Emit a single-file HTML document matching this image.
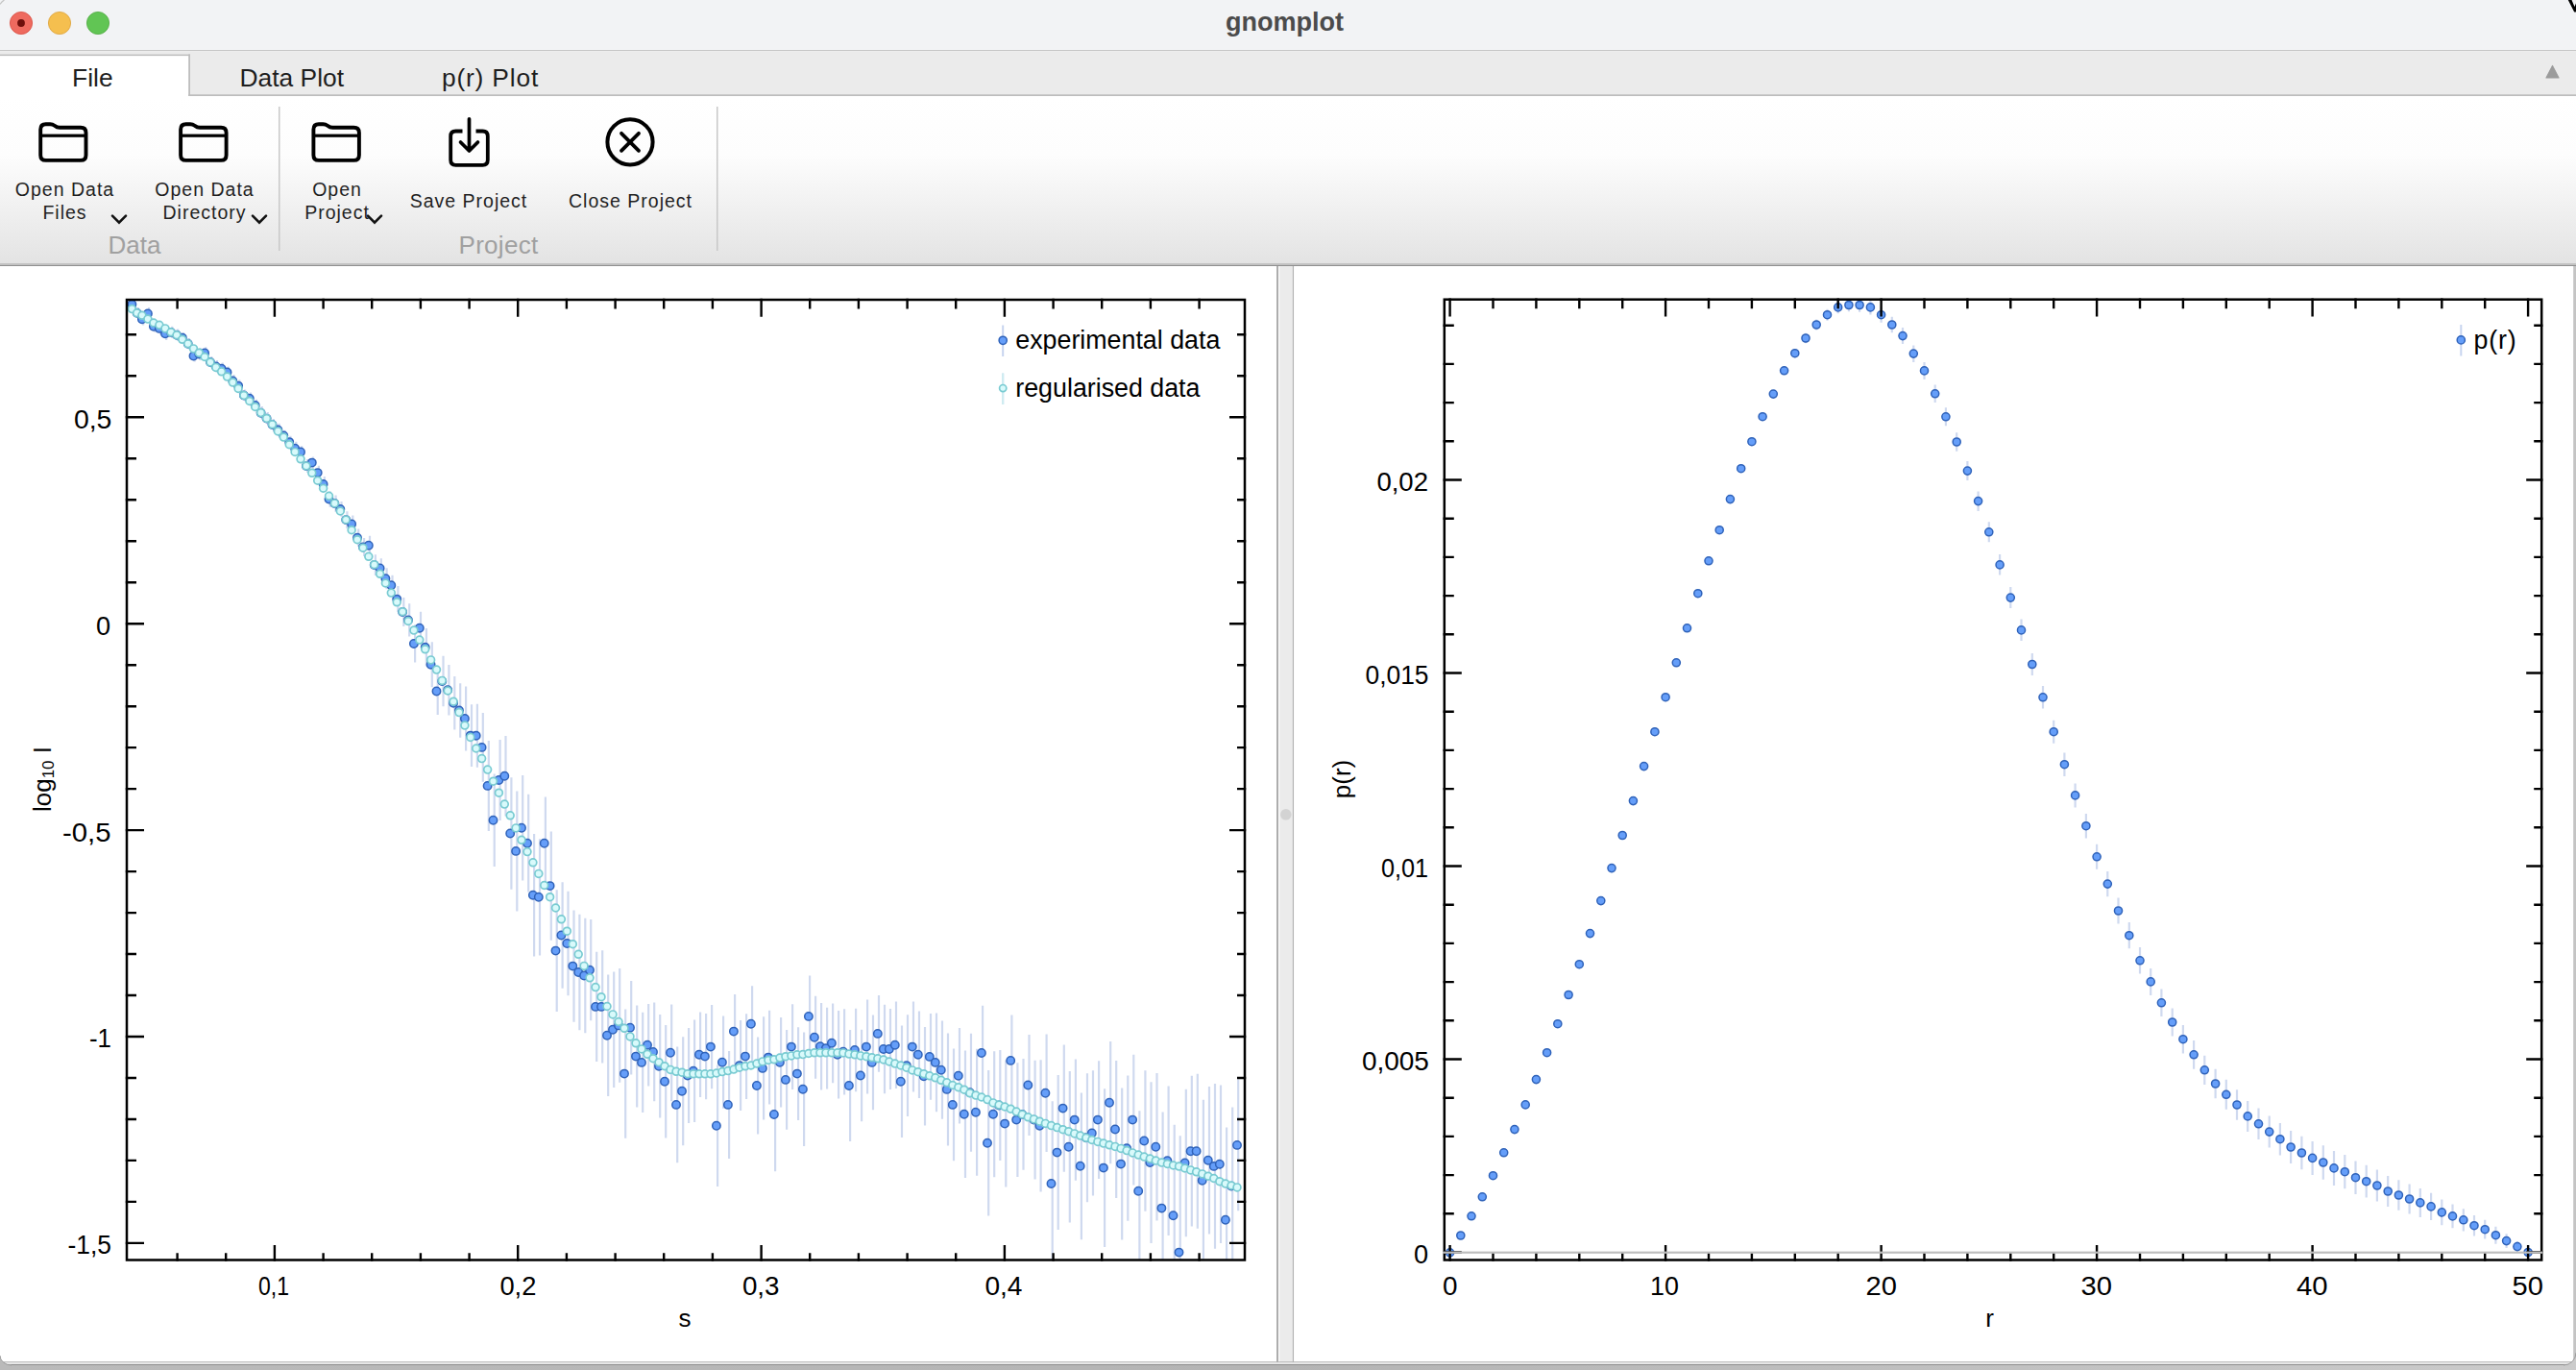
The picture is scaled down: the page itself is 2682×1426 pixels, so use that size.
<!DOCTYPE html><html><head><meta charset="utf-8"><title>gnomplot</title><style>html,body{margin:0;padding:0;width:2682px;height:1426px;overflow:hidden;background:#b9b9b9}svg{display:block}text{font-family:"Liberation Sans",sans-serif}</style></head><body><svg width="2682" height="1426" viewBox="0 0 2682 1426"><defs><linearGradient id="tb" x1="0" y1="0" x2="0" y2="1"><stop offset="0" stop-color="#ffffff"/><stop offset="0.35" stop-color="#fdfdfd"/><stop offset="1" stop-color="#e3e3e3"/></linearGradient><linearGradient id="desk" x1="0" y1="0" x2="1" y2="0"><stop offset="0" stop-color="#bababa"/><stop offset="0.5" stop-color="#b4b4b4"/><stop offset="1" stop-color="#cbcbcb"/></linearGradient><clipPath id="win"><path d="M0,0 H2682 V1408 A13,13 0 0 1 2669,1421 H12 A12,10 0 0 1 0,1411 Z"/></clipPath><clipPath id="clipL"><rect x="132" y="312" width="1164" height="999.5"/></clipPath><clipPath id="clipR"><rect x="1503.8" y="311.7" width="1142.4" height="999.8"/></clipPath></defs><rect x="0" y="0" width="2682" height="1426" fill="url(#desk)"/><g clip-path="url(#win)"><rect x="0" y="0" width="2682" height="1421" fill="#ffffff"/><rect x="0" y="0" width="2682" height="53" fill="#f2f3f5"/><rect x="0" y="52" width="2682" height="1.2" fill="#c6c6c6"/><circle cx="22" cy="24" r="11.6" fill="#ee6a5f" stroke="#d8493e" stroke-width="0.8"/><circle cx="22" cy="24" r="3.9" fill="#6e0f0b"/><circle cx="62" cy="24" r="11.6" fill="#f5bf4f" stroke="#dca13a" stroke-width="0.8"/><circle cx="102" cy="24" r="11.6" fill="#61c554" stroke="#4ea83f" stroke-width="0.8"/><text x="1337.5" y="31.8" font-size="27" font-weight="bold" fill="#4b4b4b" text-anchor="middle">gnomplot</text><rect x="0" y="53.2" width="2682" height="46.8" fill="#ebebeb"/><rect x="0" y="56.5" width="198" height="44" fill="#ffffff"/><rect x="0" y="56.5" width="198" height="1.6" fill="#bdbdbd"/><rect x="196.2" y="56.5" width="1.8" height="43.5" fill="#bdbdbd"/><rect x="196.2" y="98.3" width="2486" height="1.8" fill="#bdbdbd"/><text x="96.3" y="89.8" font-size="26.4" fill="#1e1e1e" text-anchor="middle">File</text><text x="303.8" y="90" font-size="26.4" fill="#1e1e1e" text-anchor="middle">Data Plot</text><text x="510.5" y="90" font-size="26.4" letter-spacing="0.8" fill="#1e1e1e" text-anchor="middle">p(r) Plot</text><path d="M2651,81 L2657.5,68.5 L2664,81 Z" fill="#9b9b9b" stroke="#9b9b9b" stroke-width="1.2" stroke-linejoin="round"/><rect x="0" y="100" width="2682" height="175" fill="url(#tb)"/><rect x="0" y="274" width="2682" height="2" fill="#c2c2c2"/><rect x="0" y="276" width="2682" height="1.1" fill="#8f8f8f"/><rect x="290" y="111" width="1.5" height="150" fill="#c8c8c8"/><rect x="746" y="111" width="1.5" height="150" fill="#c8c8c8"/><path d="M42.2,161.4 V134.7 Q42.2,129.2 47.7,129.2 H52.2 Q54.7,129.2 57.2,131 Q59.2,132.8 62.2,132.8 H84 Q89.5,132.8 89.5,138.2 V161.4 Q89.5,166.9 84,166.9 H47.7 Q42.2,166.9 42.2,161.4 Z" fill="none" stroke="#000" stroke-width="3.9" stroke-linejoin="round"/><rect x="43.7" y="139.6" width="44.4" height="3.2" fill="#000"/><path d="M188.1,161.4 V134.7 Q188.1,129.2 193.6,129.2 H198.1 Q200.6,129.2 203.1,131 Q205.1,132.8 208.1,132.8 H230.1 Q235.6,132.8 235.6,138.2 V161.4 Q235.6,166.9 230.1,166.9 H193.6 Q188.1,166.9 188.1,161.4 Z" fill="none" stroke="#000" stroke-width="3.9" stroke-linejoin="round"/><rect x="189.6" y="139.6" width="44.4" height="3.2" fill="#000"/><path d="M326.4,161.4 V134.7 Q326.4,129.2 331.9,129.2 H336.4 Q338.9,129.2 341.4,131 Q343.4,132.8 346.4,132.8 H368.4 Q373.9,132.8 373.9,138.2 V161.4 Q373.9,166.9 368.4,166.9 H331.9 Q326.4,166.9 326.4,161.4 Z" fill="none" stroke="#000" stroke-width="3.9" stroke-linejoin="round"/><rect x="327.9" y="139.6" width="44.4" height="3.2" fill="#000"/><path d="M481.5,136.5 H474.5 Q469.2,136.5 469.2,141.8 V166.5 Q469.2,171.8 474.5,171.8 H502.5 Q507.8,171.8 507.8,166.5 V141.8 Q507.8,136.5 502.5,136.5 H495.5" fill="none" stroke="#000" stroke-width="3.8" stroke-linecap="butt" stroke-linejoin="round"/><path d="M488.5,123.8 V156.5 M479.5,148 L488.5,157 L497.5,148" fill="none" stroke="#000" stroke-width="3.7" stroke-linecap="round" stroke-linejoin="round"/><circle cx="656" cy="147.8" r="23.6" fill="none" stroke="#000" stroke-width="4"/><path d="M647,138.8 L665,156.8 M665,138.8 L647,156.8" fill="none" stroke="#000" stroke-width="3.8" stroke-linecap="round"/><text x="67.5" y="203.7" font-size="19.5" fill="#1f1f1f" text-anchor="middle" letter-spacing="1.0">Open Data</text><text x="67.5" y="227.6" font-size="19.5" fill="#1f1f1f" text-anchor="middle" letter-spacing="1.0">Files</text><text x="213" y="203.7" font-size="19.5" fill="#1f1f1f" text-anchor="middle" letter-spacing="1.0">Open Data</text><text x="213" y="227.6" font-size="19.5" fill="#1f1f1f" text-anchor="middle" letter-spacing="1.0">Directory</text><text x="351" y="204" font-size="19.5" fill="#1f1f1f" text-anchor="middle" letter-spacing="1.0">Open</text><text x="351" y="227.6" font-size="19.5" fill="#1f1f1f" text-anchor="middle" letter-spacing="1.0">Project</text><text x="488" y="215.9" font-size="19.5" fill="#1f1f1f" text-anchor="middle" letter-spacing="1.0">Save Project</text><text x="656.5" y="215.9" font-size="19.5" fill="#1f1f1f" text-anchor="middle" letter-spacing="1.0">Close Project</text><text x="140" y="263.7" font-size="26" fill="#a0a0a0" text-anchor="middle" letter-spacing="0">Data</text><text x="519" y="264" font-size="26" fill="#a0a0a0" text-anchor="middle" letter-spacing="0.3">Project</text><path d="M117,224.7 L124,231.7 L131,224.7" fill="none" stroke="#111" stroke-width="2.6" stroke-linecap="round" stroke-linejoin="miter"/><path d="M263,224.7 L270,231.7 L277,224.7" fill="none" stroke="#111" stroke-width="2.6" stroke-linecap="round" stroke-linejoin="miter"/><path d="M383,224.7 L390,231.7 L397,224.7" fill="none" stroke="#111" stroke-width="2.6" stroke-linecap="round" stroke-linejoin="miter"/><rect x="0" y="277" width="1329" height="1141" fill="#ffffff"/><rect x="1329" y="277" width="2.2" height="1141" fill="#adadad"/><rect x="1331.2" y="277" width="1" height="1141" fill="#ffffff"/><rect x="1332.2" y="277" width="13.6" height="1141" fill="#ebebeb"/><rect x="1345.8" y="277" width="1.4" height="1141" fill="#b3b3b3"/><circle cx="1338.8" cy="847.8" r="5.8" fill="#d3d3d3"/><rect x="1347.2" y="277" width="1332" height="1141" fill="#ffffff"/><rect x="2679.2" y="277" width="2.8" height="1141" fill="#c4c4c4"/><rect x="0" y="1417.2" width="2682" height="1.4" fill="#b3b3b3"/><rect x="0" y="1418.6" width="2682" height="1.2" fill="#ffffff"/><rect x="0" y="1419.8" width="2682" height="1.2" fill="#8f8f8f"/><g clip-path="url(#clipL)"><path d="M138.6,311V322.4M143.8,319.9V331.6M149.1,326V338.4M155.1,319.9V332.9M161.1,333.7V345.7M167.1,335.4V348.4M173.2,340.7V353.9M179.2,339.8V352M185.2,342.5V355.1M191,345.9V357.2M196.9,352.1V363.5M202.7,364.3V376.6M208.5,362.1V375.1M214.3,361.3V373.4M220.2,370.9V383M226,375.1V387.8M231.8,377.6V389.8M237.7,381.6V393.2M243.5,389.9V403M249.3,395.3V408M255.1,405.5V417.4M261,408.4V421M266.9,415.8V428.2M272.8,423.1V436.5M278.8,429.1V442.1M284.7,436.1V447.8M290.6,440.7V454.3M296.5,447.7V459.4M302.4,453.7V466.4M308.3,459.8V473.6M314.2,464.3V476.7M320.1,478V492.1M326,475.4V487.8M331.9,484.7V499.5M337.8,496V511.7M343.7,511.5V527.7M349.6,515.4V532.7M355.5,522V537.7M361.4,532.2V550M367.3,536.6V554.2M373.2,550.5V569M379.1,560.1V578.9M385,557.8V577.6M390.9,577.2V599.1M396.8,581.3V601.5M402.6,591.3V613.3M408.5,598.7V619.9M414.4,610.1V637.1M420.3,622.1V651.9M426.2,628.2V662.5M432.1,650.3V689.6M438,636.8V670.6M443.9,654V693.5M449.8,668.2V715.2M455.7,694.9V744M461.5,682.7V735.2M467.4,692V744.5M473.3,704.1V759.4M479.2,711.2V767.8M485.1,714.4V781.6M491,733.3V797.9M496.9,732.8V798.8M502.8,742.1V813.7M508.8,770.9V864.9M514.7,805.6V902M520.6,769.9V854.1M526.5,765.9V849.5M532.4,809.2V925.8M538.3,823.4V948.4M544.2,807V916.4M550.2,826.8V928.6M556.1,868.1V995.5M562,873.2V994.4M567.9,829.4V926M573.8,865.4V978.8M579.7,926.3V1052.9M585.6,918.2V1028.8M591.5,927.8V1036.2M597.5,947.4V1063.8M603.4,951.8V1072.2M609.3,955.7V1075.3M615.2,957.1V1062.3M621.2,990.8V1105M627.2,989.3V1106.5M633.2,1014.5V1141.1M639.2,1011.4V1132M645.2,1008.1V1126.7M651.2,1050.5V1184.7M657.2,1021V1118.6M663.2,1046.6V1152.6M669.2,1053.7V1158.1M675.2,1045V1130.4M681.2,1043.6V1146.2M687.2,1055.9V1163.5M693.2,1067V1184.6M699.2,1045.4V1146.2M705.2,1089.5V1210.3M711.2,1079.2V1192.2M717.1,1069.9V1169.1M723.1,1061.5V1168.1M729.1,1053.5V1141.9M735.1,1055V1144.2M741.1,1046V1133.2M747.1,1108.4V1235M753.1,1057.6V1153.8M759.1,1093.9V1205.9M765.1,1035.1V1112.1M771.1,1062.1V1156M777.1,1055.2V1144M783.1,1026.2V1105.4M789.1,1079.6V1180.4M795.1,1058.2V1165.6M801.1,1051.8V1149.4M807.1,1100.8V1219.2M813.1,1058.9V1152.5M819.1,1072V1175.8M825.1,1045.3V1133.9M831.1,1069.3V1165.9M837.1,1074.6V1193M843.1,1015.5V1100.3M849.1,1036.7V1122.7M855.1,1044V1134.4M861.1,1048.8V1133.4M867.1,1044.4V1127.2M873.1,1051.9V1143.5M879.1,1050.3V1139.4M885.1,1072V1188M891.1,1049.7V1136.3M897.1,1071.7V1167.3M903.1,1040.6V1138.6M909,1056.6V1155.2M915,1036.1V1115.7M921,1045.8V1138.2M927,1050V1134M933,1042.5V1132.9M939,1067.6V1184M945,1056.2V1162M951,1042.6V1136.6M957,1052.5V1142.9M963,1069.1V1171.5M969,1055.1V1144.7M975,1054.6V1157.2M981,1062.6V1164.8M987,1075.4V1192.4M993,1091.5V1208.3M999,1069.9V1169.5M1005,1093.6V1226M1011,1075.8V1198.7M1017.1,1091.8V1223.8M1023.1,1046.7V1145.3M1029.2,1114V1265.4M1035.2,1094.3V1225.3M1041.3,1093V1208M1047.3,1103.6V1235.6M1053.4,1056.6V1151.2M1059.4,1106.2V1225M1065.5,1102.1V1217.8M1071.5,1076.9V1182.1M1077.6,1103.7V1227.5M1083.6,1103.2V1240.4M1089.6,1076.5V1199.1M1095.7,1146.2V1316.5M1101.7,1119.1V1280.1M1107.8,1087.4V1219.8M1113.8,1115V1272.4M1119.9,1102.5V1228.7M1125.9,1137.4V1290.2M1132,1117.3V1251.3M1138,1114.2V1244.6M1144.1,1104.3V1226.9M1150.1,1133.3V1297.9M1156.2,1084.1V1211.3M1162.2,1104.1V1246.9M1168.2,1132.6V1290.6M1174.3,1119.6V1270.8M1180.3,1097.8V1233.4M1186.4,1156.2V1316.5M1192.4,1114.3V1260.7M1198.5,1126.2V1294M1204.5,1117V1270.4M1210.6,1157.4V1316.5M1216.6,1130.5V1286.1M1222.7,1170.7V1316.5M1228.7,1182.2V1316.5M1234.8,1133.8V1287.2M1240.8,1119.8V1276.6M1246.8,1117.7V1278.7M1252.9,1144.8V1312.8M1259,1131V1284.4M1265,1128.1V1299.7M1271,1129.5V1293.9M1277.1,1173.5V1316.5M1283.2,1152.4V1316.5M1289.2,1123.5V1260.3" stroke="#cfd9ef" stroke-width="2.2" fill="none"/><g fill="#659ef9" stroke="#2f62b9" stroke-width="1.5"><circle cx="137.4" cy="316.7" r="4.2"/><circle cx="142.6" cy="325.8" r="4.2"/><circle cx="147.9" cy="332.2" r="4.2"/><circle cx="153.9" cy="326.4" r="4.2"/><circle cx="159.9" cy="339.7" r="4.2"/><circle cx="165.9" cy="341.9" r="4.2"/><circle cx="172" cy="347.3" r="4.2"/><circle cx="178" cy="345.9" r="4.2"/><circle cx="184" cy="348.8" r="4.2"/><circle cx="189.8" cy="351.6" r="4.2"/><circle cx="195.7" cy="357.8" r="4.2"/><circle cx="201.5" cy="370.5" r="4.2"/><circle cx="207.3" cy="368.6" r="4.2"/><circle cx="213.1" cy="367.4" r="4.2"/><circle cx="219" cy="377" r="4.2"/><circle cx="224.8" cy="381.5" r="4.2"/><circle cx="230.6" cy="383.7" r="4.2"/><circle cx="236.5" cy="387.4" r="4.2"/><circle cx="242.3" cy="396.5" r="4.2"/><circle cx="248.1" cy="401.6" r="4.2"/><circle cx="253.9" cy="411.5" r="4.2"/><circle cx="259.8" cy="414.7" r="4.2"/><circle cx="265.7" cy="422" r="4.2"/><circle cx="271.6" cy="429.8" r="4.2"/><circle cx="277.6" cy="435.6" r="4.2"/><circle cx="283.5" cy="442" r="4.2"/><circle cx="289.4" cy="447.5" r="4.2"/><circle cx="295.3" cy="453.5" r="4.2"/><circle cx="301.2" cy="460.1" r="4.2"/><circle cx="307.1" cy="466.7" r="4.2"/><circle cx="313" cy="470.5" r="4.2"/><circle cx="318.9" cy="485.1" r="4.2"/><circle cx="324.8" cy="481.6" r="4.2"/><circle cx="330.7" cy="492.1" r="4.2"/><circle cx="336.6" cy="503.9" r="4.2"/><circle cx="342.5" cy="519.6" r="4.2"/><circle cx="348.4" cy="524" r="4.2"/><circle cx="354.3" cy="529.9" r="4.2"/><circle cx="360.2" cy="541.1" r="4.2"/><circle cx="366.1" cy="545.4" r="4.2"/><circle cx="372" cy="559.8" r="4.2"/><circle cx="377.9" cy="569.5" r="4.2"/><circle cx="383.8" cy="567.7" r="4.2"/><circle cx="389.7" cy="588.1" r="4.2"/><circle cx="395.6" cy="591.4" r="4.2"/><circle cx="401.4" cy="602.3" r="4.2"/><circle cx="407.3" cy="609.3" r="4.2"/><circle cx="413.2" cy="623.6" r="4.2"/><circle cx="419.1" cy="637" r="4.2"/><circle cx="425" cy="645.4" r="4.2"/><circle cx="430.9" cy="670" r="4.2"/><circle cx="436.8" cy="653.7" r="4.2"/><circle cx="442.7" cy="673.7" r="4.2"/><circle cx="448.6" cy="691.7" r="4.2"/><circle cx="454.5" cy="719.5" r="4.2"/><circle cx="460.3" cy="709" r="4.2"/><circle cx="466.2" cy="718.2" r="4.2"/><circle cx="472.1" cy="731.8" r="4.2"/><circle cx="478" cy="739.5" r="4.2"/><circle cx="483.9" cy="748" r="4.2"/><circle cx="489.8" cy="765.6" r="4.2"/><circle cx="495.7" cy="765.8" r="4.2"/><circle cx="501.6" cy="777.9" r="4.2"/><circle cx="507.6" cy="817.9" r="4.2"/><circle cx="513.5" cy="853.8" r="4.2"/><circle cx="519.4" cy="812" r="4.2"/><circle cx="525.3" cy="807.7" r="4.2"/><circle cx="531.2" cy="867.5" r="4.2"/><circle cx="537.1" cy="885.9" r="4.2"/><circle cx="543" cy="861.7" r="4.2"/><circle cx="549" cy="877.7" r="4.2"/><circle cx="554.9" cy="931.8" r="4.2"/><circle cx="560.8" cy="933.8" r="4.2"/><circle cx="566.7" cy="877.7" r="4.2"/><circle cx="572.6" cy="922.1" r="4.2"/><circle cx="578.5" cy="989.6" r="4.2"/><circle cx="584.4" cy="973.5" r="4.2"/><circle cx="590.3" cy="982" r="4.2"/><circle cx="596.3" cy="1005.6" r="4.2"/><circle cx="602.2" cy="1012" r="4.2"/><circle cx="608.1" cy="1015.5" r="4.2"/><circle cx="614" cy="1009.7" r="4.2"/><circle cx="620" cy="1047.9" r="4.2"/><circle cx="626" cy="1047.9" r="4.2"/><circle cx="632" cy="1077.8" r="4.2"/><circle cx="638" cy="1071.7" r="4.2"/><circle cx="644" cy="1067.4" r="4.2"/><circle cx="650" cy="1117.6" r="4.2"/><circle cx="656" cy="1069.8" r="4.2"/><circle cx="662" cy="1099.6" r="4.2"/><circle cx="668" cy="1105.9" r="4.2"/><circle cx="674" cy="1087.7" r="4.2"/><circle cx="680" cy="1094.9" r="4.2"/><circle cx="686" cy="1109.7" r="4.2"/><circle cx="692" cy="1125.8" r="4.2"/><circle cx="698" cy="1095.8" r="4.2"/><circle cx="704" cy="1149.9" r="4.2"/><circle cx="710" cy="1135.7" r="4.2"/><circle cx="715.9" cy="1119.5" r="4.2"/><circle cx="721.9" cy="1114.8" r="4.2"/><circle cx="727.9" cy="1097.7" r="4.2"/><circle cx="733.9" cy="1099.6" r="4.2"/><circle cx="739.9" cy="1089.6" r="4.2"/><circle cx="745.9" cy="1171.7" r="4.2"/><circle cx="751.9" cy="1105.7" r="4.2"/><circle cx="757.9" cy="1149.9" r="4.2"/><circle cx="763.9" cy="1073.6" r="4.2"/><circle cx="769.9" cy="1109.1" r="4.2"/><circle cx="775.9" cy="1099.6" r="4.2"/><circle cx="781.9" cy="1065.8" r="4.2"/><circle cx="787.9" cy="1130" r="4.2"/><circle cx="793.9" cy="1111.9" r="4.2"/><circle cx="799.9" cy="1100.6" r="4.2"/><circle cx="805.9" cy="1160" r="4.2"/><circle cx="811.9" cy="1105.7" r="4.2"/><circle cx="817.9" cy="1123.9" r="4.2"/><circle cx="823.9" cy="1089.6" r="4.2"/><circle cx="829.9" cy="1117.6" r="4.2"/><circle cx="835.9" cy="1133.8" r="4.2"/><circle cx="841.9" cy="1057.9" r="4.2"/><circle cx="847.9" cy="1079.7" r="4.2"/><circle cx="853.9" cy="1089.2" r="4.2"/><circle cx="859.9" cy="1091.1" r="4.2"/><circle cx="865.9" cy="1085.8" r="4.2"/><circle cx="871.9" cy="1097.7" r="4.2"/><circle cx="877.9" cy="1094.8" r="4.2"/><circle cx="883.9" cy="1130" r="4.2"/><circle cx="889.9" cy="1093" r="4.2"/><circle cx="895.9" cy="1119.5" r="4.2"/><circle cx="901.9" cy="1089.6" r="4.2"/><circle cx="907.8" cy="1105.9" r="4.2"/><circle cx="913.8" cy="1075.9" r="4.2"/><circle cx="919.8" cy="1092" r="4.2"/><circle cx="925.8" cy="1092" r="4.2"/><circle cx="931.8" cy="1087.7" r="4.2"/><circle cx="937.8" cy="1125.8" r="4.2"/><circle cx="943.8" cy="1109.1" r="4.2"/><circle cx="949.8" cy="1089.6" r="4.2"/><circle cx="955.8" cy="1097.7" r="4.2"/><circle cx="961.8" cy="1120.3" r="4.2"/><circle cx="967.8" cy="1099.9" r="4.2"/><circle cx="973.8" cy="1105.9" r="4.2"/><circle cx="979.8" cy="1113.7" r="4.2"/><circle cx="985.8" cy="1133.9" r="4.2"/><circle cx="991.8" cy="1149.9" r="4.2"/><circle cx="997.8" cy="1119.7" r="4.2"/><circle cx="1003.8" cy="1159.8" r="4.2"/><circle cx="1009.8" cy="1137.3" r="4.2"/><circle cx="1015.9" cy="1157.8" r="4.2"/><circle cx="1021.9" cy="1096" r="4.2"/><circle cx="1028" cy="1189.7" r="4.2"/><circle cx="1034" cy="1159.8" r="4.2"/><circle cx="1040.1" cy="1150.5" r="4.2"/><circle cx="1046.1" cy="1169.6" r="4.2"/><circle cx="1052.2" cy="1103.9" r="4.2"/><circle cx="1058.2" cy="1165.6" r="4.2"/><circle cx="1064.3" cy="1159.9" r="4.2"/><circle cx="1070.3" cy="1129.5" r="4.2"/><circle cx="1076.4" cy="1165.6" r="4.2"/><circle cx="1082.4" cy="1171.8" r="4.2"/><circle cx="1088.4" cy="1137.8" r="4.2"/><circle cx="1094.5" cy="1232" r="4.2"/><circle cx="1100.5" cy="1199.6" r="4.2"/><circle cx="1106.6" cy="1153.6" r="4.2"/><circle cx="1112.6" cy="1193.7" r="4.2"/><circle cx="1118.7" cy="1165.6" r="4.2"/><circle cx="1124.7" cy="1213.8" r="4.2"/><circle cx="1130.8" cy="1184.3" r="4.2"/><circle cx="1136.8" cy="1179.4" r="4.2"/><circle cx="1142.9" cy="1165.6" r="4.2"/><circle cx="1148.9" cy="1215.6" r="4.2"/><circle cx="1155" cy="1147.7" r="4.2"/><circle cx="1161" cy="1175.5" r="4.2"/><circle cx="1167" cy="1211.6" r="4.2"/><circle cx="1173.1" cy="1195.2" r="4.2"/><circle cx="1179.1" cy="1165.6" r="4.2"/><circle cx="1185.2" cy="1239.7" r="4.2"/><circle cx="1191.2" cy="1187.5" r="4.2"/><circle cx="1197.3" cy="1210.1" r="4.2"/><circle cx="1203.3" cy="1193.7" r="4.2"/><circle cx="1209.4" cy="1257.6" r="4.2"/><circle cx="1215.4" cy="1208.3" r="4.2"/><circle cx="1221.5" cy="1265.3" r="4.2"/><circle cx="1227.5" cy="1303.6" r="4.2"/><circle cx="1233.6" cy="1210.5" r="4.2"/><circle cx="1239.6" cy="1198.2" r="4.2"/><circle cx="1245.6" cy="1198.2" r="4.2"/><circle cx="1251.7" cy="1228.8" r="4.2"/><circle cx="1257.8" cy="1207.7" r="4.2"/><circle cx="1263.8" cy="1213.9" r="4.2"/><circle cx="1269.8" cy="1211.7" r="4.2"/><circle cx="1275.9" cy="1269.7" r="4.2"/><circle cx="1282" cy="1234.6" r="4.2"/><circle cx="1288" cy="1191.9" r="4.2"/></g><g fill="#d9fafb" stroke="#79cbd2" stroke-width="1.7"><circle cx="137.4" cy="321.6" r="3.9"/><circle cx="142.6" cy="325.8" r="3.9"/><circle cx="147.9" cy="328.3" r="3.9"/><circle cx="153.9" cy="332.1" r="3.9"/><circle cx="159.9" cy="336" r="3.9"/><circle cx="165.9" cy="338.3" r="3.9"/><circle cx="172" cy="341.9" r="3.9"/><circle cx="178" cy="345.8" r="3.9"/><circle cx="184" cy="348.8" r="3.9"/><circle cx="189.8" cy="353.3" r="3.9"/><circle cx="195.7" cy="357.8" r="3.9"/><circle cx="201.5" cy="362.9" r="3.9"/><circle cx="207.3" cy="367.2" r="3.9"/><circle cx="213.1" cy="371.5" r="3.9"/><circle cx="219" cy="377.1" r="3.9"/><circle cx="224.8" cy="382.4" r="3.9"/><circle cx="230.6" cy="386.8" r="3.9"/><circle cx="236.5" cy="392.1" r="3.9"/><circle cx="242.3" cy="398.1" r="3.9"/><circle cx="248.1" cy="404.4" r="3.9"/><circle cx="253.9" cy="411.5" r="3.9"/><circle cx="259.8" cy="417.5" r="3.9"/><circle cx="265.7" cy="423.5" r="3.9"/><circle cx="271.6" cy="429.6" r="3.9"/><circle cx="277.6" cy="435.5" r="3.9"/><circle cx="283.5" cy="441.8" r="3.9"/><circle cx="289.4" cy="448.9" r="3.9"/><circle cx="295.3" cy="455.1" r="3.9"/><circle cx="301.2" cy="462.7" r="3.9"/><circle cx="307.1" cy="470.4" r="3.9"/><circle cx="313" cy="477.8" r="3.9"/><circle cx="318.9" cy="485" r="3.9"/><circle cx="324.8" cy="492.3" r="3.9"/><circle cx="330.7" cy="500.2" r="3.9"/><circle cx="336.6" cy="508.2" r="3.9"/><circle cx="342.5" cy="516.3" r="3.9"/><circle cx="348.4" cy="523.9" r="3.9"/><circle cx="354.3" cy="532" r="3.9"/><circle cx="360.2" cy="541" r="3.9"/><circle cx="366.1" cy="551.7" r="3.9"/><circle cx="372" cy="561.7" r="3.9"/><circle cx="377.9" cy="570.2" r="3.9"/><circle cx="383.8" cy="579.3" r="3.9"/><circle cx="389.7" cy="587.7" r="3.9"/><circle cx="395.6" cy="597.3" r="3.9"/><circle cx="401.4" cy="607" r="3.9"/><circle cx="407.3" cy="617.1" r="3.9"/><circle cx="413.2" cy="626.8" r="3.9"/><circle cx="419.1" cy="636.7" r="3.9"/><circle cx="425" cy="646.5" r="3.9"/><circle cx="430.9" cy="656.1" r="3.9"/><circle cx="436.8" cy="666.1" r="3.9"/><circle cx="442.7" cy="675.8" r="3.9"/><circle cx="448.6" cy="686.9" r="3.9"/><circle cx="454.5" cy="697.1" r="3.9"/><circle cx="460.3" cy="708.4" r="3.9"/><circle cx="466.2" cy="719" r="3.9"/><circle cx="472.1" cy="730.2" r="3.9"/><circle cx="478" cy="741.6" r="3.9"/><circle cx="483.9" cy="755.1" r="3.9"/><circle cx="489.8" cy="767.4" r="3.9"/><circle cx="495.7" cy="779" r="3.9"/><circle cx="501.6" cy="789.6" r="3.9"/><circle cx="507.6" cy="801.1" r="3.9"/><circle cx="513.5" cy="813.2" r="3.9"/><circle cx="519.4" cy="825.2" r="3.9"/><circle cx="525.3" cy="837.1" r="3.9"/><circle cx="531.2" cy="848.8" r="3.9"/><circle cx="537.1" cy="861.9" r="3.9"/><circle cx="543" cy="874.3" r="3.9"/><circle cx="549" cy="886.6" r="3.9"/><circle cx="554.9" cy="897.8" r="3.9"/><circle cx="560.8" cy="909.4" r="3.9"/><circle cx="566.7" cy="921.5" r="3.9"/><circle cx="572.6" cy="933.7" r="3.9"/><circle cx="578.5" cy="945" r="3.9"/><circle cx="584.4" cy="956.8" r="3.9"/><circle cx="590.3" cy="969.2" r="3.9"/><circle cx="596.3" cy="982.7" r="3.9"/><circle cx="602.2" cy="993.3" r="3.9"/><circle cx="608.1" cy="1005.4" r="3.9"/><circle cx="614" cy="1017.8" r="3.9"/><circle cx="620" cy="1027.6" r="3.9"/><circle cx="626" cy="1037.7" r="3.9"/><circle cx="632" cy="1047.5" r="3.9"/><circle cx="638" cy="1055.9" r="3.9"/><circle cx="644" cy="1063.5" r="3.9"/><circle cx="650" cy="1070.3" r="3.9"/><circle cx="656" cy="1078.9" r="3.9"/><circle cx="662" cy="1085.8" r="3.9"/><circle cx="668" cy="1091.9" r="3.9"/><circle cx="674" cy="1097.3" r="3.9"/><circle cx="680" cy="1101.7" r="3.9"/><circle cx="686" cy="1105.7" r="3.9"/><circle cx="692" cy="1109.7" r="3.9"/><circle cx="698" cy="1113.4" r="3.9"/><circle cx="704" cy="1115.3" r="3.9"/><circle cx="710" cy="1116.2" r="3.9"/><circle cx="715.9" cy="1117.7" r="3.9"/><circle cx="721.9" cy="1117.8" r="3.9"/><circle cx="727.9" cy="1117.8" r="3.9"/><circle cx="733.9" cy="1117.8" r="3.9"/><circle cx="739.9" cy="1117.8" r="3.9"/><circle cx="745.9" cy="1117" r="3.9"/><circle cx="751.9" cy="1115.6" r="3.9"/><circle cx="757.9" cy="1114.6" r="3.9"/><circle cx="763.9" cy="1113.1" r="3.9"/><circle cx="769.9" cy="1111.2" r="3.9"/><circle cx="775.9" cy="1109.8" r="3.9"/><circle cx="781.9" cy="1109" r="3.9"/><circle cx="787.9" cy="1107.1" r="3.9"/><circle cx="793.9" cy="1104.9" r="3.9"/><circle cx="799.9" cy="1103.5" r="3.9"/><circle cx="805.9" cy="1102.8" r="3.9"/><circle cx="811.9" cy="1101.1" r="3.9"/><circle cx="817.9" cy="1099.7" r="3.9"/><circle cx="823.9" cy="1098.9" r="3.9"/><circle cx="829.9" cy="1097.8" r="3.9"/><circle cx="835.9" cy="1097.6" r="3.9"/><circle cx="841.9" cy="1096.5" r="3.9"/><circle cx="847.9" cy="1095.8" r="3.9"/><circle cx="853.9" cy="1095.8" r="3.9"/><circle cx="859.9" cy="1095.8" r="3.9"/><circle cx="865.9" cy="1095.8" r="3.9"/><circle cx="871.9" cy="1095.8" r="3.9"/><circle cx="877.9" cy="1095.9" r="3.9"/><circle cx="883.9" cy="1097.1" r="3.9"/><circle cx="889.9" cy="1097.8" r="3.9"/><circle cx="895.9" cy="1098.9" r="3.9"/><circle cx="901.9" cy="1099.7" r="3.9"/><circle cx="907.8" cy="1100.8" r="3.9"/><circle cx="913.8" cy="1101.8" r="3.9"/><circle cx="919.8" cy="1103" r="3.9"/><circle cx="925.8" cy="1105" r="3.9"/><circle cx="931.8" cy="1107.1" r="3.9"/><circle cx="937.8" cy="1109" r="3.9"/><circle cx="943.8" cy="1111.2" r="3.9"/><circle cx="949.8" cy="1113.9" r="3.9"/><circle cx="955.8" cy="1115.7" r="3.9"/><circle cx="961.8" cy="1117.7" r="3.9"/><circle cx="967.8" cy="1119.8" r="3.9"/><circle cx="973.8" cy="1121.8" r="3.9"/><circle cx="979.8" cy="1124.3" r="3.9"/><circle cx="985.8" cy="1126.8" r="3.9"/><circle cx="991.8" cy="1129.5" r="3.9"/><circle cx="997.8" cy="1131.7" r="3.9"/><circle cx="1003.8" cy="1134.2" r="3.9"/><circle cx="1009.8" cy="1137.8" r="3.9"/><circle cx="1015.9" cy="1140.1" r="3.9"/><circle cx="1021.9" cy="1142" r="3.9"/><circle cx="1028" cy="1144.6" r="3.9"/><circle cx="1034" cy="1147.9" r="3.9"/><circle cx="1040.1" cy="1150.1" r="3.9"/><circle cx="1046.1" cy="1152" r="3.9"/><circle cx="1052.2" cy="1154.2" r="3.9"/><circle cx="1058.2" cy="1157.1" r="3.9"/><circle cx="1064.3" cy="1160" r="3.9"/><circle cx="1070.3" cy="1162.8" r="3.9"/><circle cx="1076.4" cy="1164.9" r="3.9"/><circle cx="1082.4" cy="1167.2" r="3.9"/><circle cx="1088.4" cy="1169.4" r="3.9"/><circle cx="1094.5" cy="1171.6" r="3.9"/><circle cx="1100.5" cy="1173.6" r="3.9"/><circle cx="1106.6" cy="1175.7" r="3.9"/><circle cx="1112.6" cy="1177.7" r="3.9"/><circle cx="1118.7" cy="1179.9" r="3.9"/><circle cx="1124.7" cy="1182.1" r="3.9"/><circle cx="1130.8" cy="1184.3" r="3.9"/><circle cx="1136.8" cy="1186.5" r="3.9"/><circle cx="1142.9" cy="1188.4" r="3.9"/><circle cx="1148.9" cy="1190.1" r="3.9"/><circle cx="1155" cy="1191.8" r="3.9"/><circle cx="1161" cy="1193.4" r="3.9"/><circle cx="1167" cy="1195.4" r="3.9"/><circle cx="1173.1" cy="1197.6" r="3.9"/><circle cx="1179.1" cy="1199.9" r="3.9"/><circle cx="1185.2" cy="1202.1" r="3.9"/><circle cx="1191.2" cy="1204.1" r="3.9"/><circle cx="1197.3" cy="1206.1" r="3.9"/><circle cx="1203.3" cy="1208.1" r="3.9"/><circle cx="1209.4" cy="1210.1" r="3.9"/><circle cx="1215.4" cy="1211.5" r="3.9"/><circle cx="1221.5" cy="1213" r="3.9"/><circle cx="1227.5" cy="1214.1" r="3.9"/><circle cx="1233.6" cy="1216" r="3.9"/><circle cx="1239.6" cy="1217.9" r="3.9"/><circle cx="1245.6" cy="1219.8" r="3.9"/><circle cx="1251.7" cy="1221.9" r="3.9"/><circle cx="1257.8" cy="1224.2" r="3.9"/><circle cx="1263.8" cy="1226.5" r="3.9"/><circle cx="1269.8" cy="1229.7" r="3.9"/><circle cx="1275.9" cy="1232.1" r="3.9"/><circle cx="1282" cy="1234" r="3.9"/><circle cx="1288" cy="1235.9" r="3.9"/></g></g><rect x="132" y="312" width="1164" height="999.5" fill="none" stroke="#000" stroke-width="2.5"/><path d="M184.6,1312.7V1304.2M184.6,310.8V321.6M235.2,1312.7V1304.2M235.2,310.8V321.6M285.9,1312.7V1296M285.9,310.8V329.8M336.6,1312.7V1304.2M336.6,310.8V321.6M387.2,1312.7V1304.2M387.2,310.8V321.6M437.9,1312.7V1304.2M437.9,310.8V321.6M488.6,1312.7V1304.2M488.6,310.8V321.6M539.2,1312.7V1296M539.2,310.8V329.8M589.9,1312.7V1304.2M589.9,310.8V321.6M640.6,1312.7V1304.2M640.6,310.8V321.6M691.2,1312.7V1304.2M691.2,310.8V321.6M741.9,1312.7V1304.2M741.9,310.8V321.6M792.6,1312.7V1296M792.6,310.8V329.8M843.2,1312.7V1304.2M843.2,310.8V321.6M893.9,1312.7V1304.2M893.9,310.8V321.6M944.6,1312.7V1304.2M944.6,310.8V321.6M995.2,1312.7V1304.2M995.2,310.8V321.6M1045.9,1312.7V1296M1045.9,310.8V329.8M1096.6,1312.7V1304.2M1096.6,310.8V321.6M1147.2,1312.7V1304.2M1147.2,310.8V321.6M1197.9,1312.7V1304.2M1197.9,310.8V321.6M1248.6,1312.7V1304.2M1248.6,310.8V321.6M130.8,1293.9H150M1297.2,1293.9H1280M130.8,1250.9H142M1297.2,1250.9H1288M130.8,1207.9H142M1297.2,1207.9H1288M130.8,1165H142M1297.2,1165H1288M130.8,1122H142M1297.2,1122H1288M130.8,1079H150M1297.2,1079H1280M130.8,1036H142M1297.2,1036H1288M130.8,993H142M1297.2,993H1288M130.8,950.1H142M1297.2,950.1H1288M130.8,907.1H142M1297.2,907.1H1288M130.8,864.1H150M1297.2,864.1H1280M130.8,821.1H142M1297.2,821.1H1288M130.8,778.1H142M1297.2,778.1H1288M130.8,735.2H142M1297.2,735.2H1288M130.8,692.2H142M1297.2,692.2H1288M130.8,649.2H150M1297.2,649.2H1280M130.8,606.2H142M1297.2,606.2H1288M130.8,563.2H142M1297.2,563.2H1288M130.8,520.3H142M1297.2,520.3H1288M130.8,477.3H142M1297.2,477.3H1288M130.8,434.3H150M1297.2,434.3H1280M130.8,391.3H142M1297.2,391.3H1288M130.8,348.3H142M1297.2,348.3H1288" stroke="#000" stroke-width="2.4" fill="none" stroke-linecap="butt"/><text x="76.9" y="445.7" font-size="27" fill="#000" textLength="39.5" lengthAdjust="spacingAndGlyphs">0,5</text><text x="99.9" y="660.6" font-size="27" fill="#000" textLength="15.1" lengthAdjust="spacingAndGlyphs">0</text><text x="65" y="875.5" font-size="27" fill="#000" textLength="50.5" lengthAdjust="spacingAndGlyphs">-0,5</text><text x="93" y="1090.4" font-size="27" fill="#000" textLength="23" lengthAdjust="spacingAndGlyphs">-1</text><text x="70.5" y="1305.3" font-size="27" fill="#000" textLength="45.5" lengthAdjust="spacingAndGlyphs">-1,5</text><text x="269" y="1348.3" font-size="27" fill="#000" textLength="32" lengthAdjust="spacingAndGlyphs">0,1</text><text x="520.4" y="1348.3" font-size="27" fill="#000" textLength="38" lengthAdjust="spacingAndGlyphs">0,2</text><text x="772.9" y="1348.3" font-size="27" fill="#000" textLength="38.6" lengthAdjust="spacingAndGlyphs">0,3</text><text x="1025.4" y="1348.3" font-size="27" fill="#000" textLength="39.1" lengthAdjust="spacingAndGlyphs">0,4</text><text x="713" y="1381" font-size="26" fill="#000" text-anchor="middle">s</text><text transform="translate(53,811) rotate(-90)" font-size="26" fill="#000" text-anchor="middle">log<tspan font-size="17" dy="3">10</tspan><tspan dy="-3"> I</tspan></text><path d="M1044.2,338.5V371 M1044.2,388.5V421" stroke-width="2" fill="none" stroke="#c7d4ef"/><path d="M1044.2,388.5V421" stroke-width="2" fill="none" stroke="#cfeef1"/><circle cx="1044.2" cy="354.3" r="4.1" fill="#659ef9" stroke="#2f62b9" stroke-width="1.5"/><circle cx="1044.2" cy="404.1" r="3.6" fill="#d9fafb" stroke="#79cbd2" stroke-width="1.7"/><text x="1057.3" y="363" font-size="26.8" fill="#000">experimental data</text><text x="1057.3" y="412.6" font-size="26.8" fill="#000">regularised data</text><g clip-path="url(#clipR)"><path d="M1779,580.7V586.9M1790.2,548.5V555M1801.4,516.2V523M1812.7,484.1V491.2M1823.9,456V463.4M1835.1,429.8V437.6M1846.3,406.1V414.1M1857.6,381.4V390.2M1868.8,362.9V372.5M1880,346.8V357.2M1891.2,332.4V343.6M1902.5,321.7V333.7M1913.7,313.5V326.3M1924.9,310.7V324.3M1936.1,310.3V324.7M1947.4,312.3V327.5M1958.6,319.7V335.7M1969.8,329.8V346.2M1981,341.1V358.1M1992.3,359.4V376.9M2003.5,376.9V394.9M2014.7,400.6V419.1M2025.9,424.3V443.3M2037.2,450.2V469.8M2048.4,480.1V500.1M2059.6,511.4V531.9M2070.8,543.3V564.3M2082.1,577.1V598.6M2093.3,611.1V633.1M2104.5,644.6V667.1M2115.8,680V703M2127,714V737.5M2138.2,749.7V773.7M2149.4,783.5V808M2160.6,815.4V840.4M2171.9,847V872.5M2183.1,878.8V904.8M2194.3,906.9V933.3M2205.5,934.6V961.4M2216.8,960.1V987.3M2228,986V1013.6M2239.2,1007.9V1035.9M2250.4,1029.5V1058M2261.7,1049.5V1078.5M2272.9,1067V1096.4M2284.1,1082.9V1112.7M2295.3,1098.7V1128.9M2306.6,1112.7V1143.3M2317.8,1123.8V1154.8M2329,1134.2V1165.8M2340.2,1145.9V1177.9M2351.5,1153.5V1186M2362.7,1161.6V1194.6M2373.9,1169V1202.5M2385.1,1177V1211M2396.4,1182.8V1217.2M2407.6,1187.9V1222.9M2418.8,1192.2V1227.8M2430,1197.9V1233.9M2441.3,1202.1V1237.3M2452.5,1208.5V1243M2463.7,1212.8V1246.6M2474.9,1217.5V1250.5M2486.2,1223.9V1256.1M2497.4,1228.2V1259.8M2508.6,1232.6V1263.4M2519.8,1236.9V1266.9M2531.1,1241.8V1270M2542.3,1248.6V1275.2M2553.5,1253.5V1278.3M2564.8,1258.2V1281.4M2576,1265V1286.4M2587.2,1269.8V1289.6M2598.4,1276.7V1294.7M2609.6,1284.3V1298.9M2620.9,1291.9V1303.3M2632.1,1299.5V1307.5" stroke="#cfd9ef" stroke-width="2.2" fill="none"/><g fill="#659ef9" stroke="#2f62b9" stroke-width="1.5"><circle cx="1509.6" cy="1303.9" r="4.05"/><circle cx="1520.8" cy="1286" r="4.05"/><circle cx="1532" cy="1265.8" r="4.05"/><circle cx="1543.3" cy="1245.8" r="4.05"/><circle cx="1554.5" cy="1223.7" r="4.05"/><circle cx="1565.7" cy="1199.8" r="4.05"/><circle cx="1576.9" cy="1175.6" r="4.05"/><circle cx="1588.2" cy="1149.9" r="4.05"/><circle cx="1599.4" cy="1123.6" r="4.05"/><circle cx="1610.6" cy="1095.7" r="4.05"/><circle cx="1621.8" cy="1065.7" r="4.05"/><circle cx="1633.1" cy="1035.5" r="4.05"/><circle cx="1644.3" cy="1003.7" r="4.05"/><circle cx="1655.5" cy="971.6" r="4.05"/><circle cx="1666.8" cy="937.6" r="4.05"/><circle cx="1678" cy="903.6" r="4.05"/><circle cx="1689.2" cy="869.5" r="4.05"/><circle cx="1700.4" cy="833.6" r="4.05"/><circle cx="1711.6" cy="797.6" r="4.05"/><circle cx="1722.9" cy="761.7" r="4.05"/><circle cx="1734.1" cy="725.7" r="4.05"/><circle cx="1745.3" cy="689.8" r="4.05"/><circle cx="1756.5" cy="653.8" r="4.05"/><circle cx="1767.8" cy="617.7" r="4.05"/><circle cx="1779" cy="583.8" r="4.05"/><circle cx="1790.2" cy="551.7" r="4.05"/><circle cx="1801.4" cy="519.6" r="4.05"/><circle cx="1812.7" cy="487.7" r="4.05"/><circle cx="1823.9" cy="459.7" r="4.05"/><circle cx="1835.1" cy="433.7" r="4.05"/><circle cx="1846.3" cy="410.1" r="4.05"/><circle cx="1857.6" cy="385.8" r="4.05"/><circle cx="1868.8" cy="367.7" r="4.05"/><circle cx="1880" cy="352" r="4.05"/><circle cx="1891.2" cy="338" r="4.05"/><circle cx="1902.5" cy="327.7" r="4.05"/><circle cx="1913.7" cy="319.9" r="4.05"/><circle cx="1924.9" cy="317.5" r="4.05"/><circle cx="1936.1" cy="317.5" r="4.05"/><circle cx="1947.4" cy="319.9" r="4.05"/><circle cx="1958.6" cy="327.7" r="4.05"/><circle cx="1969.8" cy="338" r="4.05"/><circle cx="1981" cy="349.6" r="4.05"/><circle cx="1992.3" cy="368.1" r="4.05"/><circle cx="2003.5" cy="385.9" r="4.05"/><circle cx="2014.7" cy="409.8" r="4.05"/><circle cx="2025.9" cy="433.8" r="4.05"/><circle cx="2037.2" cy="460" r="4.05"/><circle cx="2048.4" cy="490.1" r="4.05"/><circle cx="2059.6" cy="521.6" r="4.05"/><circle cx="2070.8" cy="553.8" r="4.05"/><circle cx="2082.1" cy="587.9" r="4.05"/><circle cx="2093.3" cy="622.1" r="4.05"/><circle cx="2104.5" cy="655.9" r="4.05"/><circle cx="2115.8" cy="691.5" r="4.05"/><circle cx="2127" cy="725.8" r="4.05"/><circle cx="2138.2" cy="761.7" r="4.05"/><circle cx="2149.4" cy="795.7" r="4.05"/><circle cx="2160.6" cy="827.9" r="4.05"/><circle cx="2171.9" cy="859.7" r="4.05"/><circle cx="2183.1" cy="891.8" r="4.05"/><circle cx="2194.3" cy="920.1" r="4.05"/><circle cx="2205.5" cy="948" r="4.05"/><circle cx="2216.8" cy="973.7" r="4.05"/><circle cx="2228" cy="999.8" r="4.05"/><circle cx="2239.2" cy="1021.9" r="4.05"/><circle cx="2250.4" cy="1043.8" r="4.05"/><circle cx="2261.7" cy="1064" r="4.05"/><circle cx="2272.9" cy="1081.7" r="4.05"/><circle cx="2284.1" cy="1097.8" r="4.05"/><circle cx="2295.3" cy="1113.8" r="4.05"/><circle cx="2306.6" cy="1128" r="4.05"/><circle cx="2317.8" cy="1139.3" r="4.05"/><circle cx="2329" cy="1150" r="4.05"/><circle cx="2340.2" cy="1161.9" r="4.05"/><circle cx="2351.5" cy="1169.8" r="4.05"/><circle cx="2362.7" cy="1178.1" r="4.05"/><circle cx="2373.9" cy="1185.7" r="4.05"/><circle cx="2385.1" cy="1194" r="4.05"/><circle cx="2396.4" cy="1200" r="4.05"/><circle cx="2407.6" cy="1205.4" r="4.05"/><circle cx="2418.8" cy="1210" r="4.05"/><circle cx="2430" cy="1215.9" r="4.05"/><circle cx="2441.3" cy="1219.7" r="4.05"/><circle cx="2452.5" cy="1225.7" r="4.05"/><circle cx="2463.7" cy="1229.7" r="4.05"/><circle cx="2474.9" cy="1234" r="4.05"/><circle cx="2486.2" cy="1240" r="4.05"/><circle cx="2497.4" cy="1244" r="4.05"/><circle cx="2508.6" cy="1248" r="4.05"/><circle cx="2519.8" cy="1251.9" r="4.05"/><circle cx="2531.1" cy="1255.9" r="4.05"/><circle cx="2542.3" cy="1261.9" r="4.05"/><circle cx="2553.5" cy="1265.9" r="4.05"/><circle cx="2564.8" cy="1269.8" r="4.05"/><circle cx="2576" cy="1275.7" r="4.05"/><circle cx="2587.2" cy="1279.7" r="4.05"/><circle cx="2598.4" cy="1285.7" r="4.05"/><circle cx="2609.6" cy="1291.6" r="4.05"/><circle cx="2620.9" cy="1297.6" r="4.05"/><circle cx="2632.1" cy="1303.5" r="4.05"/></g></g><rect x="1503.8" y="311.7" width="1142.4" height="999.8" fill="none" stroke="#000" stroke-width="2.5"/><path d="M1509.6,1312.7V1296M1509.6,310.5V329.5M1554.5,1312.7V1304.2M1554.5,310.5V321.3M1599.4,1312.7V1304.2M1599.4,310.5V321.3M1644.3,1312.7V1304.2M1644.3,310.5V321.3M1689.2,1312.7V1304.2M1689.2,310.5V321.3M1734.1,1312.7V1296M1734.1,310.5V329.5M1779,1312.7V1304.2M1779,310.5V321.3M1823.9,1312.7V1304.2M1823.9,310.5V321.3M1868.8,1312.7V1304.2M1868.8,310.5V321.3M1913.7,1312.7V1304.2M1913.7,310.5V321.3M1958.6,1312.7V1296M1958.6,310.5V329.5M2003.5,1312.7V1304.2M2003.5,310.5V321.3M2048.4,1312.7V1304.2M2048.4,310.5V321.3M2093.3,1312.7V1304.2M2093.3,310.5V321.3M2138.2,1312.7V1304.2M2138.2,310.5V321.3M2183.1,1312.7V1296M2183.1,310.5V329.5M2228,1312.7V1304.2M2228,310.5V321.3M2272.9,1312.7V1304.2M2272.9,310.5V321.3M2317.8,1312.7V1304.2M2317.8,310.5V321.3M2362.7,1312.7V1304.2M2362.7,310.5V321.3M2407.6,1312.7V1296M2407.6,310.5V329.5M2452.5,1312.7V1304.2M2452.5,310.5V321.3M2497.4,1312.7V1304.2M2497.4,310.5V321.3M2542.3,1312.7V1304.2M2542.3,310.5V321.3M2587.2,1312.7V1304.2M2587.2,310.5V321.3M2632.1,1312.7V1296M2632.1,310.5V329.5M1502.6,1303.5H1521.8M2647.4,1303.5H2630.2M1502.6,1263.3H1513.8M2647.4,1263.3H2638.2M1502.6,1223.1H1513.8M2647.4,1223.1H2638.2M1502.6,1182.9H1513.8M2647.4,1182.9H2638.2M1502.6,1142.7H1513.8M2647.4,1142.7H2638.2M1502.6,1102.5H1521.8M2647.4,1102.5H2630.2M1502.6,1062.3H1513.8M2647.4,1062.3H2638.2M1502.6,1022.1H1513.8M2647.4,1022.1H2638.2M1502.6,981.9H1513.8M2647.4,981.9H2638.2M1502.6,941.7H1513.8M2647.4,941.7H2638.2M1502.6,901.5H1521.8M2647.4,901.5H2630.2M1502.6,861.3H1513.8M2647.4,861.3H2638.2M1502.6,821.1H1513.8M2647.4,821.1H2638.2M1502.6,780.9H1513.8M2647.4,780.9H2638.2M1502.6,740.7H1513.8M2647.4,740.7H2638.2M1502.6,700.5H1521.8M2647.4,700.5H2630.2M1502.6,660.3H1513.8M2647.4,660.3H2638.2M1502.6,620.1H1513.8M2647.4,620.1H2638.2M1502.6,579.9H1513.8M2647.4,579.9H2638.2M1502.6,539.7H1513.8M2647.4,539.7H2638.2M1502.6,499.5H1521.8M2647.4,499.5H2630.2M1502.6,459.3H1513.8M2647.4,459.3H2638.2M1502.6,419.1H1513.8M2647.4,419.1H2638.2M1502.6,378.9H1513.8M2647.4,378.9H2638.2M1502.6,338.7H1513.8M2647.4,338.7H2638.2" stroke="#000" stroke-width="2.4" fill="none" stroke-linecap="butt"/><rect x="1502" y="1302.6" width="1145.5" height="2.2" fill="#bdbdbd"/><text x="1433.4" y="510.9" font-size="27" fill="#000" textLength="53.6" lengthAdjust="spacingAndGlyphs">0,02</text><text x="1421.5" y="711.9" font-size="27" fill="#000" textLength="66" lengthAdjust="spacingAndGlyphs">0,015</text><text x="1437.9" y="912.9" font-size="27" fill="#000" textLength="49.1" lengthAdjust="spacingAndGlyphs">0,01</text><text x="1417.9" y="1113.9" font-size="27" fill="#000" textLength="70" lengthAdjust="spacingAndGlyphs">0,005</text><text x="1472" y="1314.9" font-size="27" fill="#000" textLength="15.1" lengthAdjust="spacingAndGlyphs">0</text><text x="1502" y="1348" font-size="27" fill="#000" textLength="15.5" lengthAdjust="spacingAndGlyphs">0</text><text x="1718.1" y="1348" font-size="27" fill="#000" textLength="29.9" lengthAdjust="spacingAndGlyphs">10</text><text x="1942.5" y="1348" font-size="27" fill="#000" textLength="32.4" lengthAdjust="spacingAndGlyphs">20</text><text x="2166.5" y="1348" font-size="27" fill="#000" textLength="32.5" lengthAdjust="spacingAndGlyphs">30</text><text x="2390.9" y="1348" font-size="27" fill="#000" textLength="32.6" lengthAdjust="spacingAndGlyphs">40</text><text x="2615.5" y="1348" font-size="27" fill="#000" textLength="32.4" lengthAdjust="spacingAndGlyphs">50</text><text x="2071.5" y="1380.7" font-size="26" fill="#000" text-anchor="middle">r</text><text transform="translate(1405.5,811) rotate(-90)" font-size="26" fill="#000" text-anchor="middle">p(r)</text><path d="M2562.3,338V370.5" stroke-width="2" fill="none" stroke="#c7d4ef"/><circle cx="2562.3" cy="353.9" r="4.1" fill="#659ef9" stroke="#2f62b9" stroke-width="1.5"/><text x="2575.5" y="362.9" font-size="26.8" letter-spacing="0.8" fill="#000">p(r)</text></g><path d="M0,1411 A12,10 0 0 0 12,1421 M2669,1421 A13,13 0 0 0 2682,1408" fill="none" stroke="#9a9a9a" stroke-width="1"/><path d="M2673.8,0 L2677.5,0 L2680.5,7 L2682,3.5 L2682,12.5 L2680.2,12.5 Z" fill="#000"/><path d="M0,4.5 A13,13 0 0 1 4.5,0" fill="none" stroke="#c4c4c4" stroke-width="1.2"/></svg></body></html>
